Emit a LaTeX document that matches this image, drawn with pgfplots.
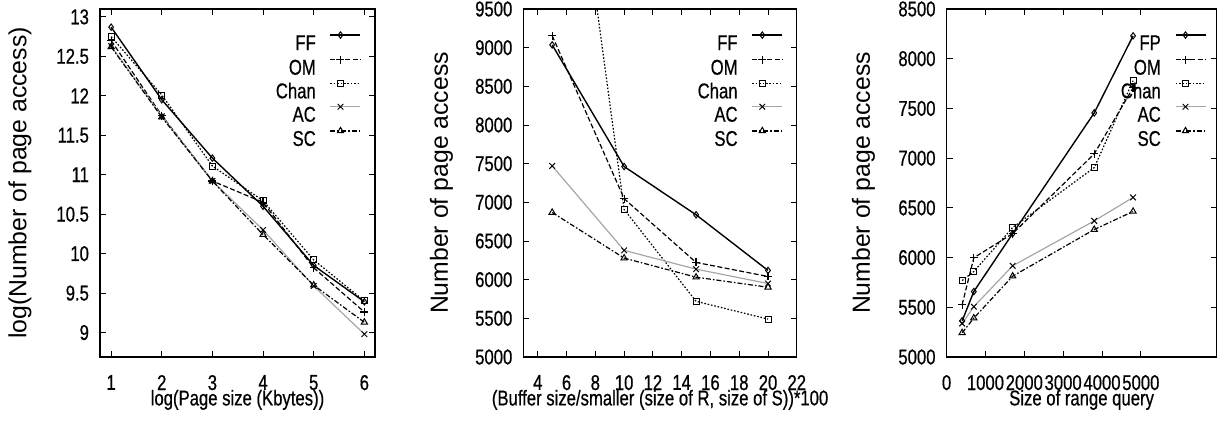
\documentclass[border=0pt]{standalone}
\usepackage{pgfplots}
\pgfplotsset{compat=1.18}
\usepackage{fontspec}
\setmainfont{Liberation Sans}
\newfontfamily\narrowsf{Liberation Sans}[FakeStretch=0.78, FakeBold=0.6]

\newcommand{\smallfont}{\narrowsf\fontsize{10.7}{12}\selectfont}

\pgfplotsset{
  panel/.style={
    scale only axis, height=174pt, anchor=south west,
    axis line style={line width=0.55pt},
    tick style={black, line width=0.45pt},
    major tick length=3pt,
    tick align=inside,
    /pgf/number format/assume math mode=true,
    /pgf/number format/set thousands separator={},
    ticklabel style={font=\smallfont},
    xticklabel shift=5.5pt, yticklabel shift=2pt,
    xlabel style={at={(axis description cs:0.5,0)}, anchor=base, yshift=-24.2pt, font=\smallfont},
    ylabel style={anchor=center, font=\fontsize{12.4}{14}\selectfont},
    legend cell align=right, legend plot pos=right,
    legend image code/.code={\draw[mark repeat=2,mark phase=2,##1] plot coordinates {(0pt,3.75pt) (5pt,3.75pt) (15pt,3.75pt)};},
    legend style={at={(1,1)}, anchor=north east, yshift=-11.25pt,
      draw=none, fill=none, inner sep=0pt, row sep=2.8pt, column sep=7pt,
      font=\smallfont, nodes={inner sep=0pt, text height=7.5pt, text depth=0pt}},
  },
  ff/.style={black, line width=0.7pt, mark=diamond, mark size=1.6pt, mark options={solid, line width=0.5pt}},
  om/.style={black, line width=0.6pt, dash pattern=on 2.5pt off 1.2pt, mark=+, mark size=2pt, mark options={solid}},
  chan/.style={black, line width=0.6pt, dash pattern=on 0.8pt off 0.9pt, mark=square, mark size=1.5pt, mark options={solid, line width=0.5pt}},
  ac/.style={gray!70, line width=0.6pt, mark=x, mark size=2pt, mark options={solid, black, line width=0.5pt}},
  sc/.style={black, line width=0.6pt, dash pattern=on 2.5pt off 1pt on 0.8pt off 1pt, mark=triangle, mark size=1.8pt, mark options={solid, line width=0.5pt}},
}

\begin{document}
\begin{tikzpicture}
\useasboundingbox (0,0) rectangle (611pt,211.5pt);

% page size
\begin{axis}[panel, at={(50pt,33pt)}, width=137.5pt,
    xmin=0.78, xmax=6.21, ymin=8.69, ymax=13.1,
    xtick={1,2,3,4,5,6}, ytick={9,9.5,10,10.5,11,11.5,12,12.5,13},
    xlabel={log(Page size (Kbytes))},
    ylabel={log(Number of page access)},
    ylabel style={at={(axis description cs:-0.291,0.5)}},
    legend style={xshift=-6.7pt}]
\addplot[ff] coordinates {(1,12.87) (2,11.95) (3,11.21) (4,10.60) (5,9.85) (6,9.39)};
\addplot[om] coordinates {(1,12.70) (2,11.75) (3,10.92) (4,10.65) (5,9.82) (6,9.26)};
\addplot[chan] coordinates {(1,12.75) (2,12.01) (3,11.11) (4,10.67) (5,9.92) (6,9.40)};
\addplot[ac] coordinates {(1,12.63) (2,11.74) (3,10.92) (4,10.30) (5,9.59) (6,8.98)};
\addplot[sc] coordinates {(1,12.62) (2,11.73) (3,10.92) (4,10.24) (5,9.60) (6,9.13)};
\legend{FF,OM,Chan,AC,SC}
\end{axis}

% buffer size
\begin{axis}[panel, at={(261.7pt,33pt)}, width=136.7pt,
    xmin=3, xmax=22, ymin=5000, ymax=9500,
    xtick={4,6,...,22}, ytick={5000,5500,...,9500},
    xlabel={(Buffer size/smaller (size of R, size of S))*100},
    ylabel={Number of page access},
    ylabel style={at={(axis description cs:-0.30,0.5)}},
    legend style={xshift=-6.7pt}]
\addplot[ff] coordinates {(5,9036) (10,7463) (15,6839) (20,6119)};
\addplot[om] coordinates {(5,9155) (10,7047) (15,6223) (20,6041)};
\addplot[chan] coordinates {(5,13800) (10,6908) (15,5720) (20,5490)};
\addplot[ac] coordinates {(5,7471) (10,6379) (15,6136) (20,5950)};
\addplot[sc] coordinates {(5,6869) (10,6279) (15,6032) (20,5902)};
\legend{FF,OM,Chan,AC,SC}
\end{axis}

% range query
\begin{axis}[panel, at={(473.3pt,33pt)}, width=135pt,
    xmin=0, xmax=6950, ymin=5000, ymax=8500,
    xtick={0,1000,...,5000}, ytick={5000,5500,...,8500},
    xlabel={Size of range query},
    ylabel={Number of page access},
    ylabel style={at={(axis description cs:-0.308,0.5)}},
    legend style={xshift=-5pt}]
\addplot[ff] coordinates {(400,5364) (700,5658) (1700,6241) (3800,7455) (4800,8230)};
\addplot[om] coordinates {(400,5526) (700,5998) (1700,6241) (3800,7043) (4800,7708)};
\addplot[chan] coordinates {(400,5769) (700,5860) (1700,6302) (3800,6905) (4800,7779)};
\addplot[ac] coordinates {(400,5337) (700,5506) (1700,5917) (3800,6369) (4800,6605)};
\addplot[sc] coordinates {(400,5243) (700,5391) (1700,5813) (3800,6282) (4800,6464)};
\legend{FP,OM,Chan,AC,SC}
\end{axis}
\end{tikzpicture}
\end{document}
